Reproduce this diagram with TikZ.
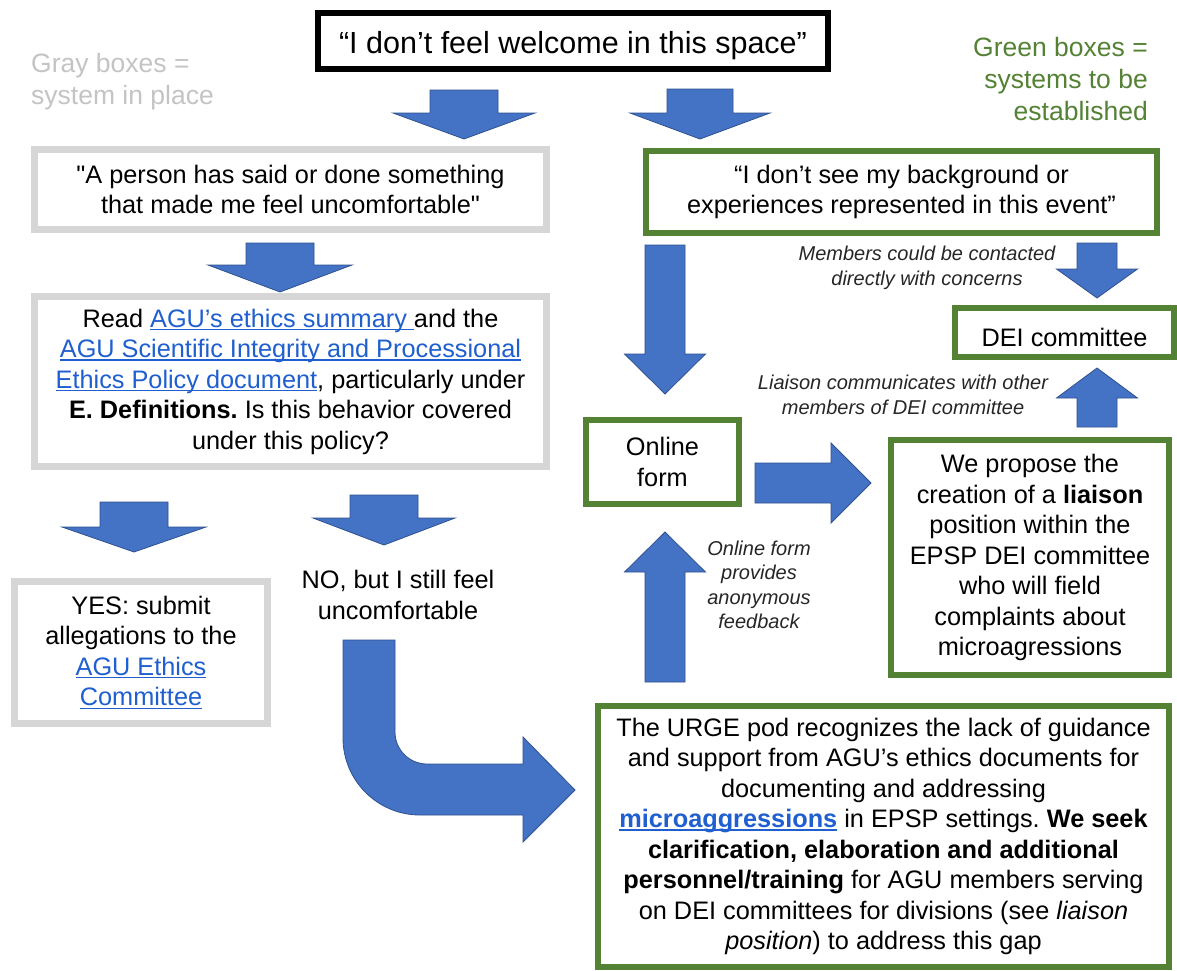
\documentclass[tikz,border=0pt]{standalone}
\usepackage{fontspec}
\setmainfont{Liberation Sans}[Ligatures=TeXOff]
\frenchspacing
\definecolor{arrblue}{HTML}{4472C4}
\definecolor{arredge}{HTML}{2F528F}
\definecolor{grn}{HTML}{548235}
\definecolor{gryb}{HTML}{D6D6D6}
\definecolor{gryt}{HTML}{C4C4C4}
\definecolor{lnk}{HTML}{1F5FCF}
\newsavebox{\lkbox}
\newcommand{\lk}[1]{\sbox{\lkbox}{\color{lnk}#1}{\color{lnk}\rlap{\rule[-3pt]{\wd\lkbox}{1.4pt}}}\usebox{\lkbox}}
\newcommand{\vblk}[6]{\filldraw[blk] (#1-#2,#4) -- (#1+#2,#4) -- (#1+#2,#5) -- (#1+#3,#5) -- (#1,#6) -- (#1-#3,#5) -- (#1-#2,#5) -- cycle;}
\tikzset{
  box/.style={draw, align=center, inner sep=0pt, font=\fontsize{25.3}{30.5}\selectfont,
    execute at begin node={\rule{0pt}{28pt}}},
  gbox/.style={box, draw=gryb, line width=7pt},
  nbox/.style={box, draw=grn, line width=6pt},
  blk/.style={fill=arrblue, draw=arredge, line width=0.8pt, line join=miter},
  lbl/.style={font=\fontsize{20}{24.5}\selectfont\itshape, align=center, text=black!85, inner sep=0pt},
  legend/.style={inner sep=0pt, font=\fontsize{26.5}{32}\selectfont},
}
\begin{document}
\begin{tikzpicture}[x=1pt,y=-1pt]
\useasboundingbox (0,0) rectangle (1177,970);
\fill[white] (0,0) rectangle (1177,970);

% block arrows
\vblk{464}{34}{71}{90}{113}{139}
\vblk{700}{33}{70}{89}{113}{139}
\vblk{280}{34}{72}{243}{265}{292}
\vblk{134}{34}{72}{502}{527}{552}
\vblk{384}{34}{71}{495}{518}{545}
\vblk{665}{20}{40.5}{245}{354}{394}
\vblk{665}{20}{40.5}{682}{572}{532}
\vblk{1097}{20}{40.5}{243}{269}{298}
\vblk{1097}{20}{40.5}{427}{398}{368}
\filldraw[blk] (755,463) -- (831,463) -- (831,443) -- (871,483) -- (831,523) -- (831,503) -- (755,503) -- cycle;
\filldraw[blk] (343,640) -- (343,738) .. controls (343,780.5) and (377.5,815) .. (420,815) -- (523,815) -- (523,842) -- (575,790) -- (523,737) -- (523,764) -- (427,764) .. controls (409.3,764) and (395,749.7) .. (395,732) -- (395,640) -- cycle;

% boxes
\node[draw=black, line width=6pt, inner sep=0pt, minimum width=510, minimum height=56, font=\fontsize{30.5}{36}\selectfont] (title) at (573,41) {\rule{0pt}{32pt}“I don’t feel welcome in this space”};

\node[gbox, minimum width=512, minimum height=80] (pers) at (290.5,189.5) {"A person has said or done something\\that made me feel uncomfortable"};

\node[gbox, minimum width=512, minimum height=170] (read) at (290.5,381.5) {Read \lk{AGU’s ethics summary }and the\\
\lk{AGU Scientific Integrity and Processional}\\
\lk{Ethics Policy document}, particularly under\\
\textbf{E. Definitions.} Is this behavior covered\\
under this policy?};

\node[gbox, minimum width=253, minimum height=142] (yes) at (141,652.5) {YES: submit\\allegations to the\\\lk{AGU Ethics}\\\lk{Committee}};

\node[box, draw=none] (no) at (398,595) {NO, but I still feel\\uncomfortable};

\node[nbox, minimum width=511, minimum height=82] (bg) at (901.5,192) {“I don’t see my background or\\experiences represented in this event”};

\node[nbox, minimum width=219, minimum height=49] (dei) at (1064.5,332.5) {DEI committee};

\node[nbox, minimum width=153, minimum height=84] (online) at (662.5,462) {Online\\form};

\node[nbox, minimum width=278, minimum height=235] (liaison) at (1030,557.5) {We propose the\\creation of a \textbf{liaison}\\position within the\\EPSP DEI committee\\who will field\\complaints about\\microagressions};

\node[nbox, minimum width=571, minimum height=261] (urge) at (883.5,836.5) {The URGE pod recognizes the lack of guidance\\
and support from AGU’s ethics documents for\\
documenting and addressing\\
\lk{\textbf{microaggressions}} in EPSP settings. \textbf{We seek}\\
\textbf{clarification, elaboration and additional}\\
\textbf{personnel/training} for AGU members serving\\
on DEI committees for divisions (see \textit{liaison}\\
\textit{position}) to address this gap};

% labels
\node[lbl] (lmem) at (927,268) {Members could be contacted\\directly with concerns};
\node[lbl] (llia) at (903,395) {Liaison communicates with other\\members of DEI committee};
\node[lbl] (lonl) at (759,585) {Online form\\provides\\anonymous\\feedback};

% legends
\node[legend, anchor=west, align=left, text=gryt] (leggray) at (31,82) {Gray boxes =\\system in place};
\node[legend, anchor=east, align=right, text=grn] (leggrn) at (1148,79) {Green boxes =\\systems to be\\established};
\end{tikzpicture}
\end{document}
